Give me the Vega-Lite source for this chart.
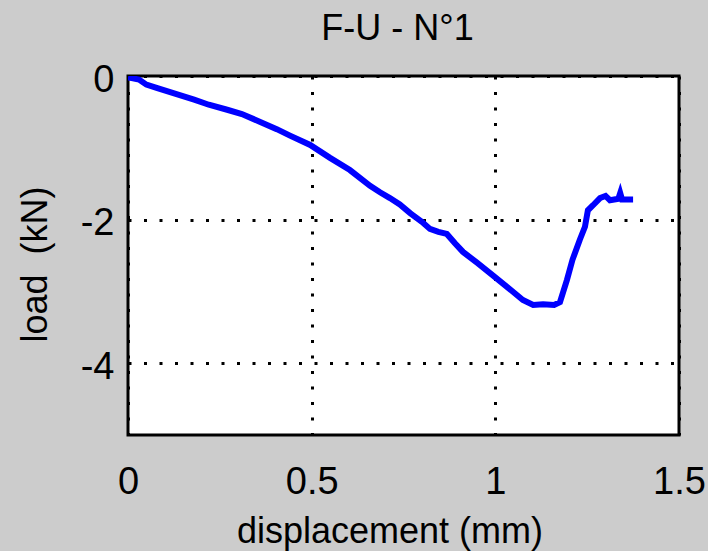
{
  "$schema": "https://vega.github.io/schema/vega-lite/v6.json",
  "autosize": "none",
  "padding": {"left": 128, "top": 76, "right": 29, "bottom": 116},
  "width": 551,
  "height": 359,
  "background": "#cccccc",
  "title": {
    "text": "F-U - N°1",
    "font": "Liberation Sans",
    "fontSize": 36,
    "fontWeight": "normal",
    "color": "#000000",
    "baseline": "alphabetic",
    "offset": -15,
    "anchor": "middle",
    "dx": -6
  },
  "config": {
    "view": {"fill": "#ffffff", "stroke": "#000000", "strokeWidth": 3},
    "axis": {
      "labelFont": "Liberation Sans",
      "titleFont": "Liberation Sans",
      "labelColor": "#000000",
      "titleColor": "#000000",
      "labelFontSize": 38,
      "titleFontSize": 36,
      "titleFontWeight": "normal",
      "domain": false,
      "ticks": false,
      "tickSize": 0,
      "grid": true,
      "gridColor": "#000000",
      "gridOpacity": 1,
      "gridWidth": 3,
      "gridDash": [3, 12.5],
      "labelBound": false,
      "labelFlush": false,
      "labelOverlap": false,
      "labelExpr": "'' + datum.value"
    }
  },
  "data": {
    "values": [
      {"d": 0.000, "load": -0.02},
      {"d": 0.010, "load": -0.03},
      {"d": 0.030, "load": -0.05},
      {"d": 0.050, "load": -0.12},
      {"d": 0.080, "load": -0.17},
      {"d": 0.130, "load": -0.25},
      {"d": 0.180, "load": -0.33},
      {"d": 0.220, "load": -0.40},
      {"d": 0.270, "load": -0.47},
      {"d": 0.310, "load": -0.53},
      {"d": 0.360, "load": -0.64},
      {"d": 0.405, "load": -0.74},
      {"d": 0.441, "load": -0.83},
      {"d": 0.496, "load": -0.96},
      {"d": 0.550, "load": -1.14},
      {"d": 0.604, "load": -1.31},
      {"d": 0.659, "load": -1.53},
      {"d": 0.686, "load": -1.62},
      {"d": 0.713, "load": -1.70},
      {"d": 0.740, "load": -1.79},
      {"d": 0.768, "load": -1.91},
      {"d": 0.800, "load": -2.03},
      {"d": 0.822, "load": -2.13},
      {"d": 0.845, "load": -2.17},
      {"d": 0.868, "load": -2.20},
      {"d": 0.890, "load": -2.33},
      {"d": 0.912, "load": -2.45},
      {"d": 0.950, "load": -2.60},
      {"d": 0.994, "load": -2.78},
      {"d": 1.030, "load": -2.93},
      {"d": 1.075, "load": -3.12},
      {"d": 1.103, "load": -3.19},
      {"d": 1.130, "load": -3.18},
      {"d": 1.160, "load": -3.19},
      {"d": 1.176, "load": -3.15},
      {"d": 1.195, "load": -2.84},
      {"d": 1.210, "load": -2.56},
      {"d": 1.230, "load": -2.28},
      {"d": 1.244, "load": -2.10},
      {"d": 1.252, "load": -1.87},
      {"d": 1.266, "load": -1.80},
      {"d": 1.285, "load": -1.70},
      {"d": 1.300, "load": -1.67},
      {"d": 1.312, "load": -1.73},
      {"d": 1.335, "load": -1.71},
      {"d": 1.340, "load": -1.63},
      {"d": 1.345, "load": -1.72},
      {"d": 1.375, "load": -1.72}
    ]
  },
  "mark": {"type": "line", "color": "#0000ff", "strokeWidth": 6, "clip": true},
  "encoding": {
    "x": {
      "field": "d",
      "type": "quantitative",
      "scale": {"domain": [0, 1.5], "nice": false, "zero": false},
      "axis": {
        "values": [0, 0.5, 1, 1.5],
        "labelBaseline": "alphabetic",
        "labelPadding": 58,
        "title": "displacement (mm)",
        "titleX": 261.5,
        "titleY": 107,
        "titleBaseline": "alphabetic",
        "titleAlign": "center"
      }
    },
    "y": {
      "field": "load",
      "type": "quantitative",
      "scale": {"domain": [-5, 0], "nice": false, "zero": false},
      "axis": {
        "values": [-4, -2, 0],
        "labelPadding": 14,
        "labelBaseline": "middle",
        "labelOffset": 4,
        "title": "load\u00a0 (kN)",
        "titleX": -93,
        "titleY": 188,
        "titleAngle": -90,
        "titleBaseline": "middle",
        "titleAlign": "center"
      }
    }
  }
}
